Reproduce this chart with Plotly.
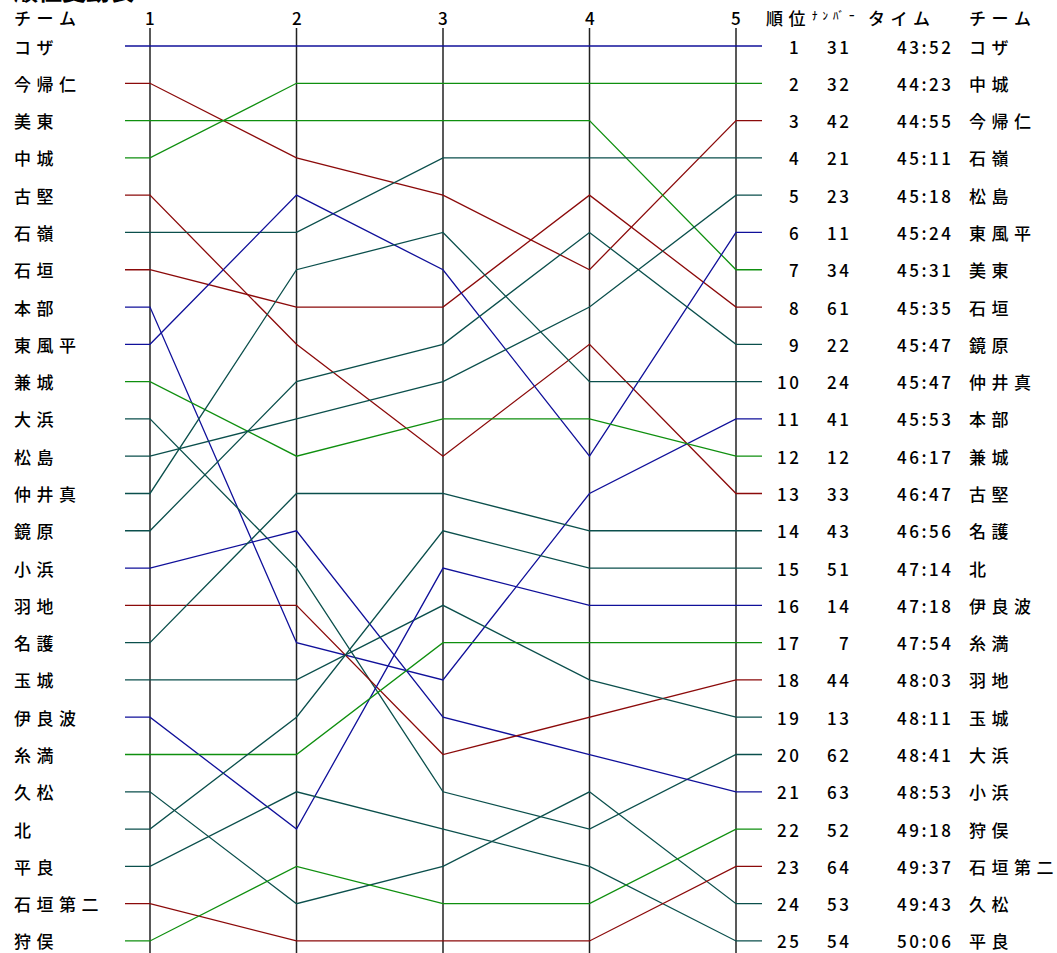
import plotly.graph_objects as go

# ---- data ----
teams = ['コザ', '今帰仁', '美東', '中城', '古堅', '石嶺', '石垣', '本部', '東風平', '兼城',
         '大浜', '松島', '仲井真', '鏡原', '小浜', '羽地', '名護', '玉城', '伊良波', '糸満',
         '久松', '北', '平良', '石垣第二', '狩俣']
leg1 = [1, 2, 3, 4, 5, 6, 7, 8, 9, 10, 11, 12, 13, 14, 15, 16, 17, 18, 19, 20, 21, 22, 23, 24, 25]
leg2 = [1, 4, 3, 2, 9, 6, 8, 17, 5, 12, 15, 11, 7, 10, 14, 16, 13, 18, 22, 20, 24, 19, 21, 25, 23]
leg3 = [1, 5, 3, 2, 12, 4, 8, 18, 7, 11, 21, 10, 6, 9, 19, 20, 13, 16, 15, 17, 23, 14, 22, 25, 24]
leg4 = [1, 7, 3, 2, 9, 4, 5, 13, 12, 11, 22, 8, 10, 6, 20, 19, 14, 18, 16, 17, 21, 15, 23, 25, 24]
leg5 = [1, 3, 7, 2, 13, 4, 8, 11, 6, 12, 20, 5, 10, 9, 21, 18, 14, 19, 16, 17, 24, 15, 25, 23, 22]
team_color_group = ['blue', 'red', 'green', 'green', 'red', 'teal', 'red', 'blue', 'blue', 'green',
                    'teal', 'teal', 'teal', 'teal', 'blue', 'red', 'teal', 'teal', 'blue', 'green',
                    'teal', 'teal', 'teal', 'red', 'green']
legs = [1, 2, 3, 4, 5]

final_rank = list(range(1, 26))
final_number = [31, 32, 42, 21, 23, 11, 34, 61, 22, 24, 41, 12, 33, 43, 51, 14, 7, 44, 13, 62, 63, 52, 64, 53, 54]
final_time = ['43:52', '44:23', '44:55', '45:11', '45:18', '45:24', '45:31', '45:35', '45:47', '45:47',
              '45:53', '46:17', '46:47', '46:56', '47:14', '47:18', '47:54', '48:03', '48:11', '48:41',
              '48:53', '49:18', '49:37', '49:43', '50:06']
final_team = ['コザ', '中城', '今帰仁', '石嶺', '松島', '東風平', '美東', '石垣', '鏡原', '仲井真',
              '本部', '兼城', '古堅', '名護', '北', '伊良波', '糸満', '羽地', '玉城', '大浜',
              '小浜', '狩俣', '石垣第二', '久松', '平良']

# ---- styling ----
W, H = 1057, 953
palette = {'blue': '#10109a', 'red': '#8b0a0a', 'green': '#0f8f0f', 'teal': '#0b4f4c'}
FONT = 'Noto Sans CJK JP'
FS = 17

x_leg1_px, x_step_px = 150, 146.5
y_r1_px, y_step_px = 46, 37.29
def px_to_x(px):
    return 1 + (px - x_leg1_px) / x_step_px
def px_to_y(py):
    return 1 + (py - y_r1_px) / y_step_px

stub_l = px_to_x(125)
stub_r = px_to_x(762)

fig = go.Figure()
legs_all = [leg1, leg2, leg3, leg4, leg5]
for i, t in enumerate(teams):
    ranks = [lg[i] for lg in legs_all]
    fig.add_trace(go.Scatter(
        x=[stub_l] + legs + [stub_r],
        y=[ranks[0]] + ranks + [ranks[-1]],
        mode='lines', line=dict(color=palette[team_color_group[i]], width=1.3),
        name=t, showlegend=False, hoverinfo='name'))

for lg in legs:
    fig.add_shape(type='line', xref='x', yref='y', x0=lg, x1=lg,
                  y0=px_to_y(28), y1=px_to_y(H + 5),
                  line=dict(color='#222222', width=1.5), layer='below')

ann = []
def txt(x, y, s, anchor='left', size=FS, xref='x', yref='y', ls=0, weight=500, yanchor='middle'):
    if ls and len(s) > 1:
        s2 = f'<span style="letter-spacing:{ls}px">{s[:-1]}</span>{s[-1]}'
    else:
        s2 = s
    ann.append(dict(x=x, y=y, xref=xref, yref=yref, text=s2,
                    showarrow=False, xanchor=anchor, yanchor=yanchor,
                    font=dict(family=FONT, size=size, color='black', weight=weight)))

CJK_LS = 5.5
DIG_LS = 2.5

# title (cut off at the top of the page, as in the reference)
txt(12 / W, 1 - 9 / H, '順位変動表', size=24, xref='paper', yref='paper', weight=700,
    yanchor='bottom')

hy = px_to_y(17)
txt(px_to_x(12), hy, 'チーム', ls=CJK_LS)
for lg in legs:
    txt(lg, hy, str(lg), anchor='center')
txt(px_to_x(764), hy, '順位', ls=CJK_LS)
txt(px_to_x(810), hy - 0.06, 'ﾅﾝﾊﾞｰ', size=11, ls=5)
txt(px_to_x(866), hy, 'タイム', ls=CJK_LS)
txt(px_to_x(967), hy, 'チーム', ls=CJK_LS)

for i, t in enumerate(teams):
    txt(px_to_x(12), leg1[i], t, ls=CJK_LS)

for r, n, tm, t in zip(final_rank, final_number, final_time, final_team):
    txt(px_to_x(801), r, str(r), anchor='right', ls=DIG_LS)
    txt(px_to_x(851), r, str(n), anchor='right', ls=DIG_LS)
    txt(px_to_x(953), r, tm, anchor='right', ls=DIG_LS)
    txt(px_to_x(967), r, t, ls=CJK_LS)

fig.update_layout(
    width=W, height=H, margin=dict(l=0, r=0, t=0, b=0),
    paper_bgcolor='white', plot_bgcolor='white',
    xaxis=dict(range=[px_to_x(0), px_to_x(W)], visible=False, fixedrange=True),
    yaxis=dict(range=[px_to_y(H), px_to_y(0)], visible=False, fixedrange=True),
    annotations=ann, showlegend=False,
)

fig.write_html('out.html', config={'displayModeBar': False},
               post_script="document.body.style.margin='0';")
